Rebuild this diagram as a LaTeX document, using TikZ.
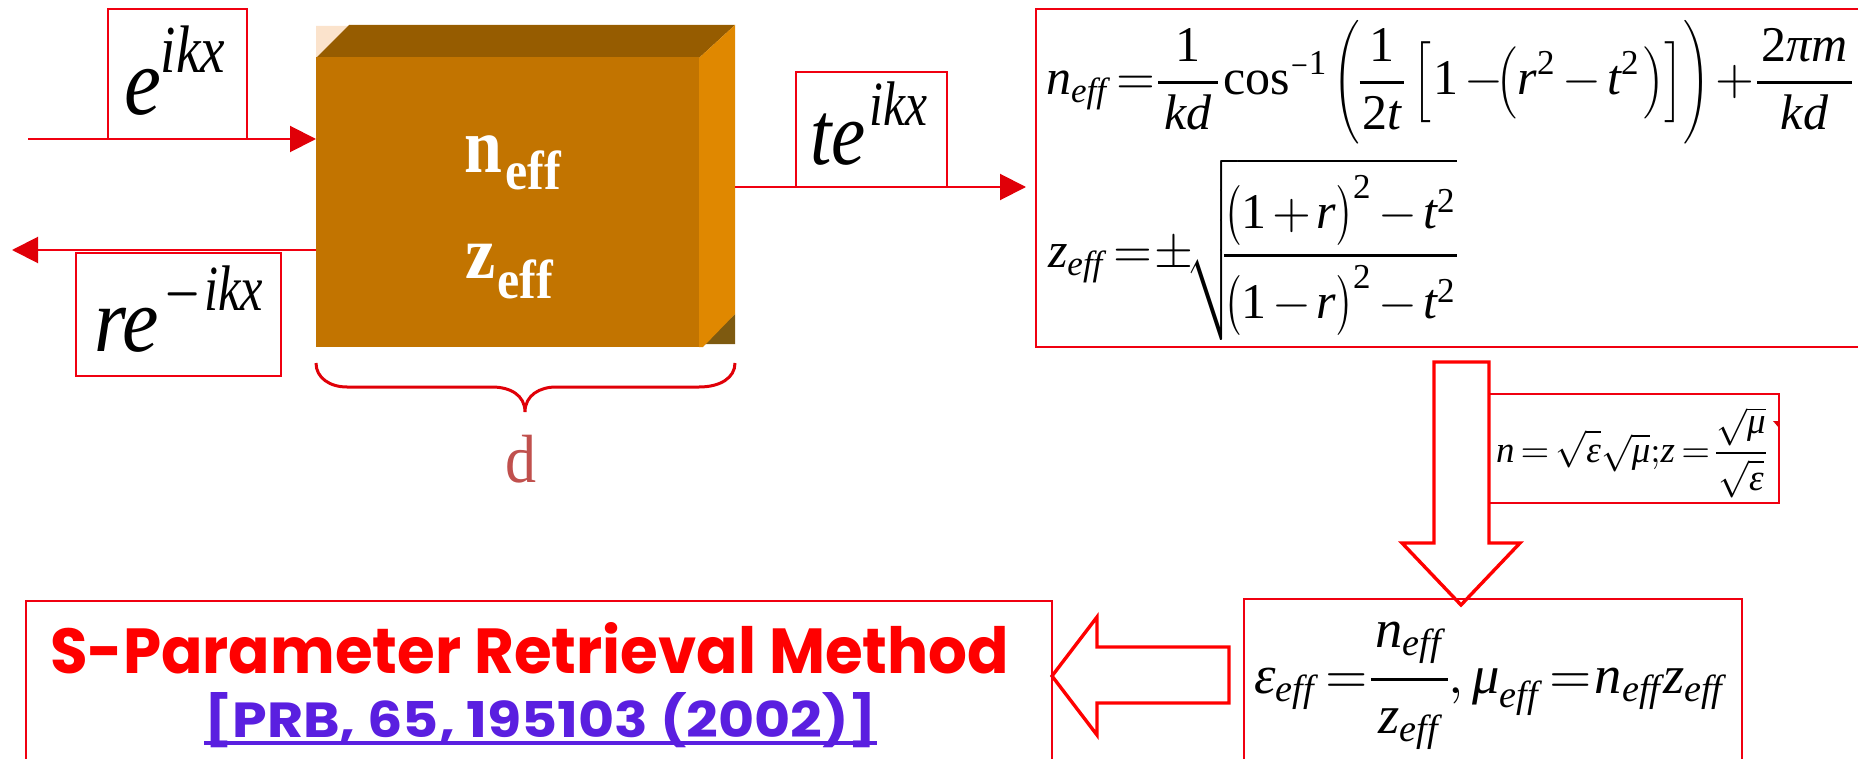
\documentclass[tikz,border=0pt]{standalone}
\usepackage{amsmath}
\usepackage{graphicx}
\usepackage{fontspec}
\usetikzlibrary{arrows.meta}
\setmainfont{Liberation Serif}
\newfontfamily\titlefont{Poppins}[BoldFont={* Bold}]
\newcommand{\vi}[1]{\text{\itshape #1}}
\newcommand{\up}[1]{\text{\upshape #1}}
\newcommand{\eff}{\vi{eff}}
\newcommand{\supr}[2]{^{\raisebox{.8pt}{\scalebox{#1}[1]{$\scriptstyle #2$}}}}
\newcommand{\ldel}[3]{\mathopen{\vcenter{\hbox{\scalebox{#1}[#2]{$#3$}}}}}
\newcommand{\rdel}[3]{\mathclose{\vcenter{\hbox{\scalebox{#1}[#2]{$#3$}}}}}
\newcommand{\tightmath}{\thinmuskip=0mu\medmuskip=2mu\thickmuskip=1mu\nulldelimiterspace=0pt\fontdimen8\textfont3=.55pt\relax}
\newcommand{\pad}[1]{\mkern#1mu}
\definecolor{boxred}{HTML}{F00010}
\definecolor{arrowred}{HTML}{FF0000}
\definecolor{headred}{HTML}{E00008}
\definecolor{front}{HTML}{C27400}
\definecolor{topface}{HTML}{965C00}
\definecolor{rightface}{HTML}{E08800}
\definecolor{palecorner}{HTML}{FBE3CC}
\definecolor{darkcorner}{HTML}{7E5A10}
\definecolor{dlabel}{HTML}{C0504D}
\definecolor{linkblue}{HTML}{5A1FE0}
\tikzset{
  x=1pt,y=-1pt,
  redbox/.style={draw=boxred,line width=2pt,fill=white,inner sep=0pt,outer sep=0pt,anchor=north west},
  openbox/.style={draw=boxred,line width=1.8pt},
  wave/.style={draw=boxred,line width=2pt,-{Triangle[length=26pt,width=26pt,color=headred]}},
  blockarrow/.style={draw=arrowred,line width=3.4pt,fill=white,miter limit=20},
  frm/.style={anchor=base west,inner sep=0pt,outer sep=0pt,text=black},
  blocklabel/.style={anchor=base west,inner sep=0pt,text=white},
}
\begin{document}
\begin{tikzpicture}
\useasboundingbox (0,0) rectangle (1858,759);
% block
\fill[palecorner] (316,26) -- (350,26) -- (316,58) -- cycle;
\fill[darkcorner] (735,314) -- (735,344) -- (703,344) -- cycle;
\fill[topface] (316,58) -- (349,25) -- (735,25) -- (699,58) -- cycle;
\fill[rightface] (699,58) -- (735,25) -- (735,314) -- (703,347) -- (699,347) -- cycle;
\node[fill=front,minimum width=383pt,minimum height=290pt,anchor=north west,inner sep=0pt,outer sep=0pt] (block) at (316,57) {};
\node[blocklabel,font=\bfseries\fontsize{68}{68}\selectfont,yscale=1.15] (nlabel) at (464,173) {n};
\node[blocklabel,font=\bfseries\fontsize{50}{50}\selectfont,yscale=1.1] (nsub) at (505,190) {eff};
\node[blocklabel,font=\bfseries\fontsize{68}{68}\selectfont,yscale=1.1] (zlabel) at (465,279) {z};
\node[blocklabel,font=\bfseries\fontsize{50}{50}\selectfont,yscale=1.1] (zsub) at (497,298) {eff};
% wave arrows
\coordinate (inS) at (28,139);
\coordinate (outT) at (12,250);
\coordinate (outS) at (735,187);
\coordinate (outE) at (1026,187);
\draw[wave] (inS) -- (inS -| block.west);
\draw[wave] (outT -| block.west) -- (outT);
\draw[wave] (outS) -- (outE);
% wave labels
\node[redbox,minimum width=139pt,minimum height=130pt] (ebox) at (108,9) {};
\node[frm,xscale=8.3,yscale=9.6] (etext) at (124,115) {$\vi{e}\supr{.95}{\vi{ikx}}$};
\node[redbox,minimum width=205pt,minimum height=123pt] (rbox) at (76,253) {};
\node[frm,xscale=8.2,yscale=9.2] (rtext) at (94,351) {$\vi{re}\supr{.88}{\hspace{.6pt}\scalebox{.85}[1]{$\scriptstyle-$}\hspace{.3pt}\vi{ikx}}$};
\node[redbox,minimum width=151pt,minimum height=115pt] (tbox) at (796,72) {};
\node[frm,xscale=7.7,yscale=9.0] (ttext) at (810,165) {$\vi{te}\supr{.92}{\hspace{.6pt}\vi{ikx}}$};
% brace
\draw[draw=headred,line width=3pt] (316,363) .. controls (316,378) and (330,387) .. (347,387) -- (492,387) .. controls (510,387) and (525,395) .. (525,412) .. controls (525,395) and (540,387) .. (556,387) -- (699,387) .. controls (720,387) and (735,378) .. (735,363);
\node[anchor=base,inner sep=0pt,text=dlabel,font=\fontsize{62}{62}\selectfont,yscale=1.1] (dlab) at (521,482) {d};
% formula box
\draw[openbox] (1858,9) -- (1036,9) -- (1036,347) -- (1858,347);
\node[frm,scale=5] (f1) at (1046,95) {$\displaystyle\tightmath \vi{n}_{\eff}\;\;=\frac{\pad{2.2}\up{1}\pad{2.2}}{\pad{2.2}\vi{kd}\pad{2.2}}\pad{2}\up{cos}^{\scalebox{.6}[1]{$\scriptstyle-$}\up{1}}\pad{1.5}\ldel{.72}{1.03}{\bigg(}\frac{\pad{1}\up{1}\pad{1}}{\pad{1}\up{2}\vi{t}\pad{1}}\pad{3}\ldel{.8}{.9}{\Big[}\pad{1}\up{1}-\pad{-4.4}\ldel{.7}{.8}{\Big(}\vi{r}^{\up{2}}-\vi{t}^{\up{2}}\pad{1}\rdel{.7}{.8}{\Big)}\rdel{.8}{.9}{\Big]}\rdel{.72}{1.03}{\bigg)}+\pad{-1}\frac{\pad{1.5}\up{2}\vi{π}\vi{m}\pad{1.5}}{\vi{kd}}$};
\node[frm,scale=5] (f2) at (1048,268) {$\displaystyle\tightmath \vi{z}_{\eff}\;\;=\pm\pad{-3}\sqrt{\pad{-5}\frac{\ldel{.75}{1}{\big(}\up{1}+\vi{r}\rdel{.75}{1}{\big)}^{\up{2}}-\vi{t}^{\up{2}}}{\ldel{.75}{1}{\big(}\up{1}-\vi{r}\rdel{.75}{1}{\big)}^{\up{2}}-\vi{t}^{\up{2}}}}$};
% relation box
\node[redbox,minimum width=290pt,minimum height=109pt] (relbox) at (1489,394) {};
\fill[headred] (1773,421) -- (1779,421) -- (1779,428) -- cycle;
\node[frm,scale=3.7] (f3) at (1496,462) {$\displaystyle\tightmath\thickmuskip=3mu \vi{n}=\sqrt{\vi{ε}}\sqrt{\vi{μ}};\vi{z}=\frac{\sqrt{\vi{μ}}}{\sqrt{\vi{ε}}}$};
% block arrows
\draw[blockarrow] (1434,362) -- (1489,362) -- (1489,543) -- (1520,543) -- (1461,605) -- (1402,543) -- (1434,543) -- cycle;
% result box
\draw[openbox] (1244,759) -- (1244,599) -- (1742,599) -- (1742,759);
\node[frm,xscale=5.45,yscale=5.4] (f4) at (1254,693) {$\displaystyle\tightmath \vi{ε}_{\eff}\;\;=\frac{\pad{1.5}\vi{n}_{\eff}\rule[-4pt]{0pt}{4pt}\pad{1.5}}{\vi{z}_{\eff}\rule{0pt}{8pt}},\pad{3}\vi{μ}_{\eff}\;\;=\vi{n}_{\eff}\vi{z}_{\eff}$};
\draw[blockarrow] (1229,647) -- (1097,647) -- (1097,617) -- (1052,676) -- (1097,735) -- (1097,703) -- (1229,703) -- cycle;
% method box
\draw[openbox] (26,759) -- (26,601) -- (1052,601) -- (1052,759);
\node[anchor=base west,inner sep=0pt,text=arrowred] (title) at (50,673) {\resizebox{959pt}{51pt}{\titlefont\bfseries S-Parameter Retrieval Method}};
\node[anchor=base west,inner sep=0pt,text=linkblue] (link) at (204,737) {\resizebox{673pt}{45pt}{\titlefont\bfseries [PRB, 65, 195103 (2002)]}};
\draw[draw=linkblue,line width=3.5pt] (link.base west) ++(0,6) -- ++(673,0);
\end{tikzpicture}
\end{document}
